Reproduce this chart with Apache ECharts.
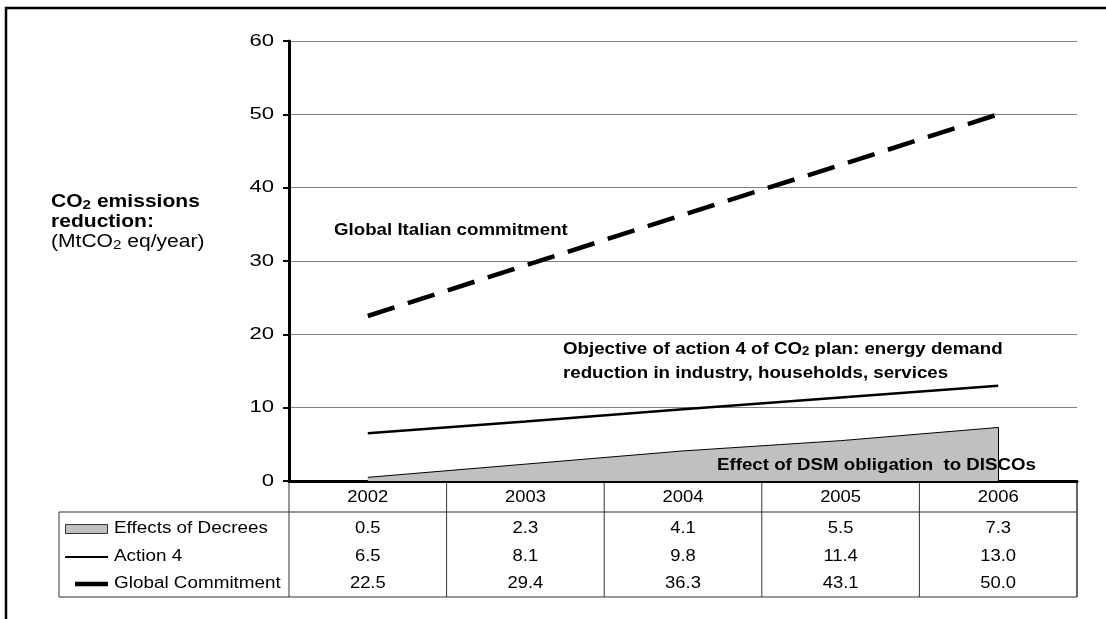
<!DOCTYPE html>
<html>
<head>
	<meta charset="utf-8">
	<title>CO2 emissions reduction</title>
	<script src="https://cdn.jsdelivr.net/npm/echarts@6/dist/echarts.min.js"></script>
	<style>
		html, body { margin: 0; padding: 0; background: #fff; }
		#main { width: 1106px; height: 619px; }
	</style>
</head>
<body>
	<div id="main"></div>
	<script>
		// 数据
		var years = ['2002', '2003', '2004', '2005', '2006'];
		var decrees = [0.5, 2.3, 4.1, 5.5, 7.3];
		var action4 = [6.5, 8.1, 9.8, 11.4, 13.0];
		var globalCommit = [22.5, 29.4, 36.3, 43.1, 50.0];
		var rowNames = ['Effects of Decrees', 'Action 4', 'Global Commitment'];
		var yTicks = [0, 10, 20, 30, 40, 50, 60];

		var font = 'Arial, "Liberation Sans", sans-serif';
		var chart = echarts.init(document.getElementById('main'));

		chart.setOption({
			animation: false,
			backgroundColor: '#fff',
			grid: { left: 289, right: 29, top: 41, bottom: 138 },
			xAxis: {
				type: 'category',
				data: years,
				boundaryGap: true,
				axisLine: { lineStyle: { color: '#000', width: 3 } },
				axisTick: { show: false },
				axisLabel: { show: false },
				splitLine: { show: false }
			},
			yAxis: {
				type: 'value',
				min: yTicks[0],
				max: yTicks[yTicks.length - 1],
				interval: 10,
				axisLine: { show: true, lineStyle: { color: '#000', width: 3 } },
				axisTick: { show: true, length: 6, lineStyle: { color: '#000', width: 2 } },
				axisLabel: { show: false },
				splitLine: { lineStyle: { color: '#808080', width: 1 } }
			},
			series: [
				{
					name: 'Effects of Decrees',
					type: 'line',
					data: decrees,
					symbol: 'none',
					z: 2,
					lineStyle: { color: '#000', width: 1 },
					areaStyle: { color: '#c0c0c0', opacity: 1 },
					markLine: {
						symbol: 'none',
						silent: true,
						label: { show: false },
						lineStyle: { color: '#000', width: 1, type: 'solid' },
						data: [[
							{ coord: [years[4], 0] },
							{ coord: [years[4], decrees[4]] }
						]]
					}
				},
				{
					name: 'Action 4',
					type: 'line',
					data: action4,
					symbol: 'none',
					z: 3,
					lineStyle: { color: '#000', width: 2.5 }
				},
				{
					name: 'Global Commitment',
					type: 'line',
					data: globalCommit,
					symbol: 'none',
					z: 3,
					lineStyle: { color: '#000', width: 4.5, type: [28, 14] }
				}
			]
		});

		// 表格位置
		var x0 = chart.convertToPixel({ xAxisIndex: 0 }, years[0]);
		var x1 = chart.convertToPixel({ xAxisIndex: 0 }, years[1]);
		var half = (x1 - x0) / 2;
		var yAxisY = chart.convertToPixel({ yAxisIndex: 0 }, 0);
		var leftX = x0 - half;
		var rightX = chart.convertToPixel({ xAxisIndex: 0 }, years[years.length - 1]) + half;
		var headTop = yAxisY;
		var headBottom = yAxisY + 31;
		var tableBottom = headBottom + 85;
		var legendLeft = 59;
		var rowY = [headBottom + 17, headBottom + 45, headBottom + 72];
		var rows = [decrees, action4, globalCommit];

		var g = [];
		var lineColor = '#333';
		function hline(y, xa, xb, w) {
			g.push({ type: 'line', shape: { x1: xa, y1: y, x2: xb, y2: y }, style: { stroke: lineColor, lineWidth: w || 1 } });
		}
		function vline(x, ya, yb, w) {
			g.push({ type: 'line', shape: { x1: x, y1: ya, x2: x, y2: yb }, style: { stroke: lineColor, lineWidth: w || 1 } });
		}
		// 文字稍微横向拉宽
		function txt(x, y, s, f, align, sx, extra) {
			var el = { type: 'text', x: x, y: y, scaleX: sx || 1, z: 100,
				style: { text: s, fill: '#000', font: f, align: align || 'left', verticalAlign: 'middle' } };
			if (extra) { for (var k in extra) el.style[k] = extra[k]; }
			g.push(el);
		}

		// 外框
		g.push({ type: 'rect', shape: { x: 6, y: 8, width: 1200, height: 700 }, style: { fill: null, stroke: '#000', lineWidth: 2.5 } });

		// y轴刻度文字
		yTicks.forEach(function (v) {
			txt(274, chart.convertToPixel({ yAxisIndex: 0 }, v), String(v), '17px ' + font, 'right', 1.3);
		});

		hline(headBottom, legendLeft, rightX);
		hline(tableBottom, legendLeft, rightX);
		vline(legendLeft, headBottom, tableBottom);
		vline(leftX, headTop, tableBottom);
		for (var i = 1; i < years.length; i++) {
			vline(x0 + half * (2 * i - 1), headTop, tableBottom);
		}
		vline(rightX, headTop, tableBottom, 1.5);

		years.forEach(function (yr, i) {
			var cx = chart.convertToPixel({ xAxisIndex: 0 }, yr);
			txt(cx, headTop + 17, yr, '16px ' + font, 'center', 1.15);
			rows.forEach(function (arr, r) {
				txt(cx, rowY[r], arr[i].toFixed(1), '16px ' + font, 'center', 1.15);
			});
		});

		// 图例
		g.push({ type: 'rect', shape: { x: 65.5, y: rowY[0] - 4.5, width: 42, height: 9 }, style: { fill: '#c0c0c0', stroke: '#333', lineWidth: 1 } });
		g.push({ type: 'line', shape: { x1: 65, y1: rowY[1], x2: 108, y2: rowY[1] }, style: { stroke: '#000', lineWidth: 2 } });
		g.push({ type: 'line', shape: { x1: 75, y1: rowY[2], x2: 108, y2: rowY[2] }, style: { stroke: '#000', lineWidth: 4.5 } });
		rowNames.forEach(function (name, r) {
			txt(114, rowY[r], name, '16px ' + font, 'left', 1.18);
		});

		// 注释文字
		var rich = {
			b: { fontSize: 18, fontWeight: 'bold', fontFamily: font, color: '#000' },
			bs: { fontSize: 13, fontWeight: 'bold', fontFamily: font, color: '#000', padding: [6, 0, 0, 0] },
			n: { fontSize: 18, fontFamily: font, color: '#000' },
			ns: { fontSize: 13, fontFamily: font, color: '#000', padding: [6, 0, 0, 0] },
			a: { fontSize: 17, fontWeight: 'bold', fontFamily: font, color: '#000' },
			as: { fontSize: 12, fontWeight: 'bold', fontFamily: font, color: '#000', padding: [6, 0, 0, 0] }
		};
		txt(51, 202, '{b|CO}{bs|2}{b| emissions}', '', 'left', 1.17, { rich: rich });
		txt(51, 222, '{b|reduction:}', '', 'left', 1.17, { rich: rich });
		txt(51, 242, '{n|(MtCO}{ns|2}{n| eq/year)}', '', 'left', 1.17, { rich: rich });
		txt(334, 230, 'Global Italian commitment', 'bold 17px ' + font, 'left', 1.1);
		txt(563, 349, '{a|Objective of action 4 of CO}{as|2}{a| plan: energy demand}', '', 'left', 1.1, { rich: rich });
		txt(563, 373, 'reduction in industry, households, services', 'bold 17px ' + font, 'left', 1.1);
		txt(717, 465, 'Effect of DSM obligation  to DISCOs', 'bold 17px ' + font, 'left', 1.1);

		chart.setOption({ graphic: g });
	</script>
</body>
</html>
